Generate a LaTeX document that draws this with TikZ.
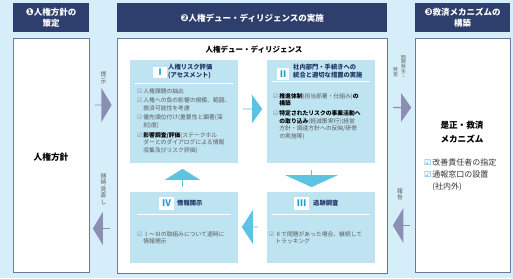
\documentclass[tikz,border=0pt]{standalone}
\usepackage{fontspec}
\setmainfont{Noto Sans CJK JP}
\newfontfamily\dingfont{DejaVu Sans}
\usetikzlibrary{shapes.arrows}

\definecolor{bgblue}{HTML}{D5EEF9}
\definecolor{navy}{HTML}{2E3E6D}
\definecolor{panelline}{HTML}{6E7799}
\definecolor{stepfill}{HTML}{BEE3F1}
\definecolor{flowcyan}{HTML}{5CC3E0}
\definecolor{sidegray}{HTML}{8A8FB3}
\definecolor{numblue}{HTML}{1E9FD3}
\definecolor{titlenavy}{HTML}{1F3566}
\definecolor{bodygray}{HTML}{5A5A5A}
\definecolor{chkgray}{HTML}{6F8FB0}
\definecolor{chkblue}{HTML}{3A9AD6}

\newcommand{\chk}{{\dingfont\color{chkgray}☑}\hspace{1pt}}
\newcommand{\ind}{\hphantom{\chk}}
\newcommand{\fs}[2]{\fontsize{#1}{#2}\selectfont}
\newcommand{\hnum}[1]{{\dingfont\fs{9.5}{11}#1}}

\begin{document}
\begin{tikzpicture}[x=1pt, y=-1pt,
    header/.style={fill=navy, text=white, inner sep=0pt, anchor=north west, align=center,
      font=\fs{8.5}{11}\bfseries},
    panel/.style={draw=panelline, line width=0.8pt, fill=white, inner sep=0pt, anchor=north west},
    stepbox/.style={fill=stepfill, inner sep=0pt, anchor=north west, minimum width=108pt},
    numbox/.style={fill=white, text=numblue, inner sep=0pt, font=\fs{9}{9}\bfseries},
    steptitle/.style={text=titlenavy, anchor=west, align=left, inner sep=0pt, font=\fs{6.3}{7.3}\bfseries},
    items/.style={text=bodygray, anchor=north west, align=left, inner sep=0pt, font=\fs{5.8}{7.7}},
    sepline/.style={white, line width=0.9pt},
    flow/.style={single arrow, fill=flowcyan, inner sep=0pt, outer sep=0pt},
    side/.style={single arrow, fill=sidegray, inner sep=0pt, outer sep=0pt},
    vlabel/.style={text=bodygray, align=center, inner sep=0pt, font=\fs{5.8}{6.5}},
  ]

    %% background
    \useasboundingbox (0,0) rectangle (513,278);
    \fill[bgblue] (0,0) rectangle (513,278);

    %% headers
    \node[header, minimum width=76pt, minimum height=29pt] (h1) at (13,3)
      {\hnum{❶}人権方針の\\策定};
    \node[header, minimum width=270pt, minimum height=29pt] (h2) at (117,3)
      {\hnum{❷}人権デュー・ディリジェンスの実施};
    \node[header, minimum width=95pt, minimum height=29pt] (h3) at (415,3)
      {\hnum{❸}救済メカニズムの\\構築};

    %% panels
    \node[panel, minimum width=76pt, minimum height=234pt] (policy) at (13,38) {};
    \node[panel, minimum width=270pt, minimum height=235pt] (dd) at (117,38) {};
    \node[panel, minimum width=95pt, minimum height=234pt] (remedy) at (415,38) {};

    \node[font=\fs{8.7}{10}\bfseries] (ptext) at (51,157) {人権方針};
    \node[font=\fs{7.5}{9}\bfseries] (ddtitle) at (254,50) {人権デュー・ディリジェンス};

    %% the four steps
    \node[stepbox, minimum height=103pt] (s1) at (130,60) {};
    \node[stepbox, minimum height=103pt] (s2) at (267,60) {};
    \node[stepbox, minimum height=71pt] (s3) at (267,192) {};
    \node[stepbox, minimum height=71pt] (s4) at (130,192) {};

    %% step I
    \node[numbox, minimum width=14pt, minimum height=11pt] (n1) at (160,72) {Ⅰ};
    \node[steptitle] (t1) at (168,71.5) {人権リスク評価\\(アセスメント)};
    \draw[sepline] (135,83) -- (233,83);
    \node[items] (i1) at (137,88) {%
      \chk 人権課題の抽出\\[1.8pt]
      \chk 人権への負の影響の規模、範囲、\\
      \ind 救済可能性を考慮\\[1.8pt]
      \chk 優先順位付け(重要性と顕著(深\\
      \ind 刻)度)\\[1.8pt]
      \chk {\color{black}\bfseries 影響調査/評価}(ステークホル\\
      \ind ダーとのダイアログによる情報\\
      \ind 収集及びリスク評価)};

    %% step II
    \node[numbox, minimum width=12pt, minimum height=12pt] (n2) at (283,74) {Ⅱ};
    \node[steptitle] (t2) at (293,71) {社内部門・手続きへの\\統合と適切な措置の実施};
    \draw[sepline] (272,81) -- (370,81);
    \node[items] (i2) at (273,93) {%
      \chk {\color{black}\bfseries 推進体制}(担当部署・仕組み){\color{black}\bfseries の}\\
      \ind {\color{black}\bfseries 構築}\\[1.8pt]
      \chk {\color{black}\bfseries 特定されたリスクの事業活動へ}\\
      \ind {\color{black}\bfseries の取り込み}(軽減策実行)(経営\\
      \ind 方針・調達方針への反映/研修\\
      \ind の実施等)};

    %% step III
    \node[numbox, minimum width=15pt, minimum height=13pt] (n3) at (301.5,203.5) {Ⅲ};
    \node[steptitle] (t3) at (313,203.5) {追跡調査};
    \draw[sepline] (272,214) -- (370,214);
    \node[items] (i3) at (269,231) {%
      \chk Ⅱで問題があった場合、継続して\\
      \ind トラッキング};

    %% step IV
    \node[numbox, minimum width=15pt, minimum height=13pt] (n4) at (166.5,203.5) {Ⅳ};
    \node[steptitle] (t4) at (177,203.5) {情報開示};
    \draw[sepline] (137,214) -- (231,214);
    \node[items] (i4) at (137,231) {%
      \chk Ⅰ～Ⅲの取組みについて適時に\\
      \ind 情報開示};

    %% cycle arrows
    \node[flow, minimum height=19pt, minimum width=28pt, single arrow head extend=5.5pt,
      single arrow tip angle=109] (f12) at (252.5,109) {};
    \node[flow, rotate=-90, minimum height=17pt, minimum width=53pt, single arrow head extend=13pt,
      single arrow tip angle=131] (f23) at (311.5,178.5) {};
    \node[flow, rotate=180, minimum height=16pt, minimum width=34pt, single arrow head extend=7pt,
      single arrow tip angle=114] (f34) at (250,227) {};
    \node[flow, rotate=90, minimum height=18pt, minimum width=35pt, single arrow head extend=8pt,
      single arrow tip angle=116] (f41) at (182.5,178) {};

    %% side arrows
    \node[side, minimum height=17pt, minimum width=34pt, single arrow head extend=8pt,
      single arrow tip angle=118] (ashow) at (103,105) {};
    \node[side, rotate=180, minimum height=17pt, minimum width=33pt, single arrow head extend=7.5pt,
      single arrow tip angle=118] (areview) at (101.5,228.5) {};
    \node[side, minimum height=18pt, minimum width=29pt, single arrow head extend=5pt,
      single arrow tip angle=110] (afound) at (402,107.5) {};
    \node[side, rotate=180, minimum height=17pt, minimum width=35pt, single arrow head extend=8pt,
      single arrow tip angle=118] (areport) at (401.5,225.5) {};

    \node[vlabel] (lshow) at (103.5,78) {提\\示};
    \node[vlabel] (lreview) at (103.5,189) {随\\時\\見\\直\\し};
    \node[vlabel, font=\fs{4.8}{4.9}, anchor=north] (lfound1) at (403.5,55) {問\\題\\発\\生\\・};
    \node[vlabel, font=\fs{4.8}{4.9}, anchor=north] (lfound2) at (395.5,67) {発\\覚};
    \node[vlabel] (lreport) at (400,194.5) {報\\告};

    %% remedy panel text
    \node[font=\fs{8.6}{14}\bfseries, align=center] (rtitle) at (462,132) {是正・救済\\メカニズム};
    \node[anchor=north west, align=left, inner sep=0pt, text=black!80, font=\fs{8}{12}] (ritems) at (424,159)
      {{\dingfont\color{chkblue}☑}\hspace{1pt}改善責任者の指定\\
       {\dingfont\color{chkblue}☑}\hspace{1pt}通報窓口の設置\\
       \hphantom{{\dingfont ☑}\hspace{1pt}}(社内外)};
\end{tikzpicture}
\end{document}
